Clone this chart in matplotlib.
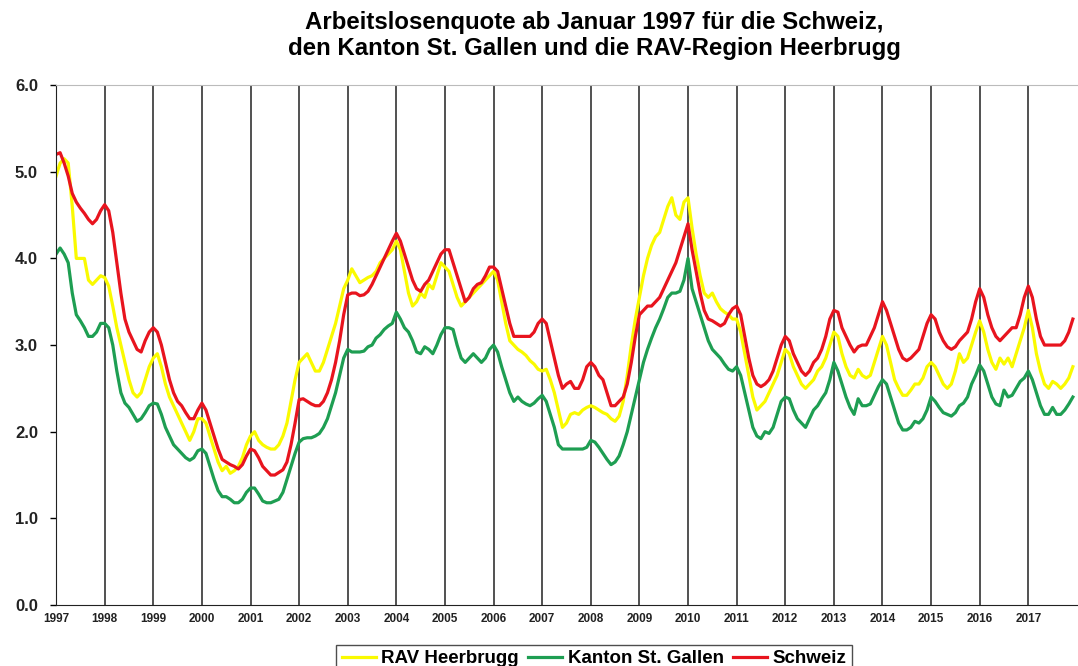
import numpy as np
import matplotlib
matplotlib.use("Agg")
import matplotlib.pyplot as plt

plt.rcParams['font.family'] = ['Liberation Sans', 'DejaVu Sans']

# monthly values Jan 1997 .. Dec 2017, one row per year
schweiz = [
    [5.20, 5.22, 5.10, 4.95, 4.75, 4.65, 4.58, 4.52, 4.45, 4.40, 4.45, 4.55],  # 1997
    [4.62, 4.55, 4.30, 3.95, 3.60, 3.30, 3.15, 3.05, 2.95, 2.92, 3.05, 3.15],  # 1998
    [3.20, 3.15, 3.00, 2.80, 2.60, 2.45, 2.35, 2.30, 2.22, 2.15, 2.15, 2.25],  # 1999
    [2.33, 2.25, 2.10, 1.95, 1.80, 1.68, 1.65, 1.62, 1.60, 1.57, 1.62, 1.72],  # 2000
    [1.80, 1.78, 1.70, 1.60, 1.55, 1.50, 1.50, 1.53, 1.56, 1.65, 1.85, 2.10],  # 2001
    [2.37, 2.38, 2.35, 2.32, 2.30, 2.30, 2.35, 2.45, 2.60, 2.80, 3.05, 3.35],  # 2002
    [3.58, 3.60, 3.60, 3.57, 3.58, 3.62, 3.70, 3.80, 3.90, 4.00, 4.10, 4.20],  # 2003
    [4.29, 4.20, 4.05, 3.90, 3.75, 3.65, 3.62, 3.70, 3.75, 3.85, 3.95, 4.05],  # 2004
    [4.10, 4.10, 3.95, 3.80, 3.65, 3.50, 3.55, 3.65, 3.70, 3.72, 3.80, 3.90],  # 2005
    [3.90, 3.85, 3.65, 3.45, 3.25, 3.10, 3.10, 3.10, 3.10, 3.10, 3.15, 3.25],  # 2006
    [3.30, 3.25, 3.05, 2.85, 2.65, 2.50, 2.55, 2.58, 2.50, 2.50, 2.60, 2.75],  # 2007
    [2.80, 2.75, 2.65, 2.60, 2.45, 2.30, 2.30, 2.35, 2.40, 2.55, 2.80, 3.10],  # 2008
    [3.35, 3.40, 3.45, 3.45, 3.50, 3.55, 3.65, 3.75, 3.85, 3.95, 4.10, 4.25],  # 2009
    [4.40, 4.10, 3.85, 3.60, 3.40, 3.30, 3.28, 3.25, 3.22, 3.25, 3.35, 3.42],  # 2010
    [3.45, 3.35, 3.10, 2.85, 2.65, 2.55, 2.52, 2.55, 2.60, 2.70, 2.85, 3.00],  # 2011
    [3.10, 3.05, 2.90, 2.80, 2.70, 2.65, 2.70, 2.80, 2.85, 2.95, 3.10, 3.30],  # 2012
    [3.40, 3.38, 3.20, 3.10, 3.00, 2.92, 2.98, 3.00, 3.00, 3.10, 3.20, 3.35],  # 2013
    [3.50, 3.40, 3.25, 3.10, 2.95, 2.85, 2.82, 2.85, 2.90, 2.95, 3.10, 3.25],  # 2014
    [3.35, 3.30, 3.15, 3.05, 2.98, 2.95, 2.98, 3.05, 3.10, 3.15, 3.30, 3.50],  # 2015
    [3.65, 3.55, 3.35, 3.20, 3.10, 3.05, 3.10, 3.15, 3.20, 3.20, 3.35, 3.55],  # 2016
    [3.68, 3.55, 3.30, 3.10, 3.00, 3.00, 3.00, 3.00, 3.00, 3.05, 3.15, 3.30],  # 2017
]

heerbrugg = [
    [4.95, 5.10, 5.15, 5.10, 4.60, 4.00, 4.00, 4.00, 3.75, 3.70, 3.75, 3.80],  # 1997
    [3.78, 3.68, 3.45, 3.20, 3.00, 2.80, 2.60, 2.45, 2.40, 2.45, 2.60, 2.75],  # 1998
    [2.85, 2.90, 2.75, 2.55, 2.40, 2.30, 2.20, 2.10, 2.00, 1.90, 2.00, 2.15],  # 1999
    [2.15, 2.10, 1.95, 1.80, 1.65, 1.55, 1.60, 1.52, 1.55, 1.60, 1.70, 1.85],  # 2000
    [1.95, 2.00, 1.90, 1.85, 1.82, 1.80, 1.80, 1.85, 1.95, 2.10, 2.35, 2.60],  # 2001
    [2.80, 2.85, 2.90, 2.80, 2.70, 2.70, 2.80, 2.95, 3.10, 3.25, 3.45, 3.65],  # 2002
    [3.75, 3.88, 3.80, 3.72, 3.75, 3.78, 3.80, 3.85, 3.95, 4.00, 4.05, 4.10],  # 2003
    [4.20, 4.10, 3.85, 3.60, 3.45, 3.50, 3.60, 3.55, 3.70, 3.65, 3.80, 3.95],  # 2004
    [3.90, 3.85, 3.70, 3.55, 3.45, 3.50, 3.55, 3.60, 3.65, 3.70, 3.75, 3.80],  # 2005
    [3.85, 3.75, 3.50, 3.25, 3.05, 3.00, 2.95, 2.92, 2.88, 2.82, 2.78, 2.72],  # 2006
    [2.70, 2.72, 2.60, 2.45, 2.25, 2.05, 2.10, 2.20, 2.22, 2.20, 2.25, 2.28],  # 2007
    [2.30, 2.28, 2.25, 2.22, 2.20, 2.15, 2.12, 2.18, 2.35, 2.65, 3.00, 3.30],  # 2008
    [3.55, 3.80, 4.00, 4.15, 4.25, 4.30, 4.45, 4.60, 4.70, 4.50, 4.45, 4.65],  # 2009
    [4.70, 4.35, 4.05, 3.80, 3.60, 3.55, 3.60, 3.50, 3.42, 3.38, 3.35, 3.30],  # 2010
    [3.30, 3.15, 2.90, 2.65, 2.40, 2.25, 2.30, 2.35, 2.45, 2.55, 2.65, 2.80],  # 2011
    [2.95, 2.90, 2.75, 2.65, 2.55, 2.50, 2.55, 2.60, 2.70, 2.75, 2.85, 3.00],  # 2012
    [3.15, 3.10, 2.90, 2.75, 2.65, 2.62, 2.72, 2.65, 2.62, 2.65, 2.80, 2.95],  # 2013
    [3.10, 3.00, 2.80, 2.60, 2.50, 2.42, 2.42, 2.48, 2.55, 2.55, 2.62, 2.75],  # 2014
    [2.80, 2.75, 2.65, 2.55, 2.50, 2.55, 2.70, 2.90, 2.80, 2.85, 3.00, 3.15],  # 2015
    [3.28, 3.15, 2.95, 2.80, 2.72, 2.85, 2.78, 2.85, 2.75, 2.90, 3.05, 3.20],  # 2016
    [3.40, 3.20, 2.90, 2.70, 2.55, 2.50, 2.58, 2.55, 2.50, 2.55, 2.62, 2.75],  # 2017
]

st_gallen = [
    [4.05, 4.12, 4.05, 3.95, 3.60, 3.35, 3.28, 3.20, 3.10, 3.10, 3.15, 3.25],  # 1997
    [3.25, 3.20, 3.00, 2.70, 2.45, 2.33, 2.28, 2.20, 2.12, 2.15, 2.22, 2.30],  # 1998
    [2.33, 2.32, 2.20, 2.05, 1.95, 1.85, 1.80, 1.75, 1.70, 1.67, 1.70, 1.78],  # 1999
    [1.80, 1.75, 1.60, 1.45, 1.32, 1.25, 1.25, 1.22, 1.18, 1.18, 1.22, 1.30],  # 2000
    [1.35, 1.35, 1.28, 1.20, 1.18, 1.18, 1.20, 1.22, 1.30, 1.45, 1.60, 1.75],  # 2001
    [1.88, 1.92, 1.93, 1.93, 1.95, 1.98, 2.05, 2.15, 2.30, 2.45, 2.65, 2.85],  # 2002
    [2.95, 2.92, 2.92, 2.92, 2.93, 2.98, 3.00, 3.08, 3.12, 3.18, 3.22, 3.25],  # 2003
    [3.38, 3.30, 3.20, 3.15, 3.05, 2.92, 2.90, 2.98, 2.95, 2.90, 3.00, 3.12],  # 2004
    [3.20, 3.20, 3.18, 3.00, 2.85, 2.80, 2.85, 2.90, 2.85, 2.80, 2.85, 2.95],  # 2005
    [3.00, 2.92, 2.75, 2.60, 2.45, 2.35, 2.40, 2.35, 2.32, 2.30, 2.33, 2.38],  # 2006
    [2.42, 2.35, 2.20, 2.05, 1.85, 1.80, 1.80, 1.80, 1.80, 1.80, 1.80, 1.82],  # 2007
    [1.90, 1.88, 1.82, 1.75, 1.68, 1.62, 1.65, 1.72, 1.85, 2.00, 2.20, 2.40],  # 2008
    [2.60, 2.80, 2.95, 3.08, 3.20, 3.30, 3.42, 3.55, 3.60, 3.60, 3.62, 3.75],  # 2009
    [4.00, 3.65, 3.50, 3.35, 3.20, 3.05, 2.95, 2.90, 2.85, 2.78, 2.72, 2.70],  # 2010
    [2.75, 2.65, 2.45, 2.25, 2.05, 1.95, 1.92, 2.00, 1.98, 2.05, 2.20, 2.35],  # 2011
    [2.40, 2.38, 2.25, 2.15, 2.10, 2.05, 2.15, 2.25, 2.30, 2.38, 2.45, 2.60],  # 2012
    [2.80, 2.70, 2.55, 2.40, 2.28, 2.20, 2.38, 2.30, 2.30, 2.32, 2.42, 2.52],  # 2013
    [2.60, 2.55, 2.40, 2.25, 2.10, 2.02, 2.02, 2.05, 2.12, 2.10, 2.15, 2.25],  # 2014
    [2.40, 2.35, 2.28, 2.22, 2.20, 2.18, 2.22, 2.30, 2.33, 2.40, 2.55, 2.65],  # 2015
    [2.77, 2.70, 2.55, 2.40, 2.32, 2.30, 2.48, 2.40, 2.42, 2.50, 2.58, 2.62],  # 2016
    [2.70, 2.60, 2.45, 2.30, 2.20, 2.20, 2.28, 2.20, 2.20, 2.25, 2.32, 2.40],  # 2017
]

years = list(range(1997, 2018))
labels = ['RAV Heerbrugg', 'Kanton St. Gallen', 'Schweiz']
colors = ['#FAFA00', '#1E9E52', '#E8141E']

# decimal year for every month
t = np.array([y + m / 12 for y in years for m in range(12)])

fig = plt.figure(figsize=(10.78, 6.66), dpi=100)
ax = fig.add_axes([0.052, 0.0916, 0.947, 0.7806])

for series, lab, col in zip([heerbrugg, st_gallen, schweiz], labels, colors):
    ax.plot(t, np.array(series).ravel(), color=col, lw=2.3, label=lab)

for y in years[1:]:
    ax.axvline(y, color='#222222', lw=1.1, zorder=0)

ax.set_xlim(1997, 2018)
ax.set_ylim(0, 6)
ax.set_xticks(years)
ax.set_xticklabels([str(y) for y in years], fontsize=8.5, fontweight='bold', color='#222222')
ax.set_yticks(np.arange(0, 7, 1))
ax.set_yticklabels([f"{v:.1f}" for v in range(7)], fontsize=12, fontweight='bold', color='#222222')
ax.tick_params(axis='x', length=0, pad=6)
ax.tick_params(axis='y', length=4, width=1, pad=9)

ax.spines['right'].set_visible(False)
ax.spines['top'].set_color('#BBBBBB')
ax.spines['left'].set_color('#222222')
ax.spines['bottom'].set_color('#222222')

fig.text(0.551, 0.984, "Arbeitslosenquote ab Januar 1997 für die Schweiz,\n"
         "den Kanton St. Gallen und die RAV-Region Heerbrugg",
         ha='center', va='top', fontsize=17.3, fontweight='bold', linespacing=1.2)

leg = fig.legend(loc='upper center', bbox_to_anchor=(0.551, 0.046), ncol=3,
                 frameon=True, fancybox=False, edgecolor='#222222',
                 prop={'weight': 'bold', 'size': 13.5}, handlelength=1.8,
                 columnspacing=0.5, handletextpad=0.3, borderpad=0.3)
leg.get_frame().set_linewidth(1.0)

fig.savefig('out.png', dpi=100)
